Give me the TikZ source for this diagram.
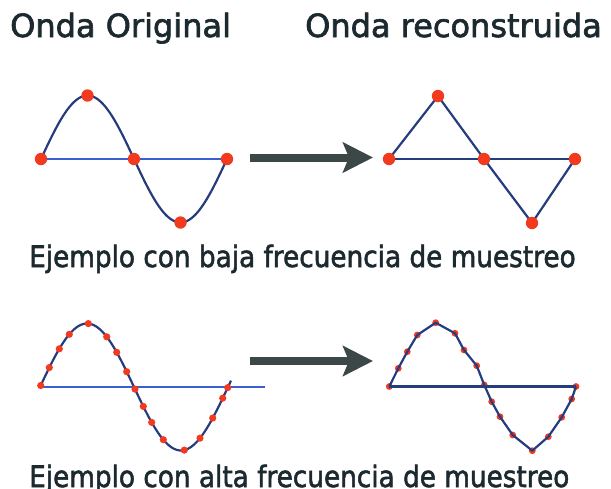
\documentclass[tikz,border=0pt]{standalone}
\usepackage{fontspec}
\setmainfont{DejaVu Sans}
\newfontfamily\labfont[FakeBold=2]{DejaVu Sans}
\usetikzlibrary{arrows.meta}
\definecolor{txt}{RGB}{28,42,48}
\definecolor{wave}{RGB}{38,60,125}
\definecolor{axisb}{RGB}{58,95,210}
\definecolor{dot}{RGB}{242,58,30}
\definecolor{arr}{RGB}{60,72,72}
\newcommand{\tallcap}[1]{\scalebox{1}[1.12]{#1}}
\tikzset{
  title/.style={anchor=base west, inner sep=0pt, text=txt, font=\labfont\fontsize{32}{36}\selectfont},
  caption/.style={anchor=base west, inner sep=0pt, text=txt, font=\labfont\fontsize{26.3}{30}\selectfont},
  wavel/.style={draw=wave, line width=2.2pt, line join=round},
  axisl/.style={draw=axisb, line width=2.2pt},
  bigdot/.style={fill=dot},
  bigarrow/.style={draw=arr, line width=8pt, -{Stealth[length=30pt,width=30pt,inset=6pt]}}
}
\begin{document}
\begin{tikzpicture}[x=1pt,y=-1pt]
\useasboundingbox (0,0) rectangle (611,488);
\clip (0,0) rectangle (611,488);

% titles
\node[title] (t1) at (10,37) {Onda Original};
\node[title] (t2) at (305,37) {Onda reconstruida};
\node[caption] (c1) at (29,267) {\tallcap{Ejemplo con baja frecuencia de muestreo}};
\node[caption] (c2) at (29,487) {\tallcap{Ejemplo con alta frecuencia de muestreo}};

% ---------- top left: original wave, low sampling ----------
\coordinate (a0) at (41,159);
\coordinate (a4) at (227,159);
\draw[axisl] (a0) -- (a4);
\draw[wavel] plot[domain=41:227, samples=80, smooth] (\x,{159-63.5*sin((\x-41)/186*360)});
\foreach \x in {41,87.5,134,180.5,227}
  \fill[bigdot] ({\x},{159-63.5*sin((\x-41)/186*360)}) circle (6.2);

% ---------- top right: reconstruction ----------
\coordinate (r0) at (389,159);
\coordinate (r1) at (438,96);
\coordinate (r2) at (484,159);
\coordinate (r3) at (532,223);
\coordinate (r4) at (575,159);
\draw[wavel] (r0) -- (r4);
\draw[wavel] (r0) -- (r1) -- (r2) -- (r3) -- (r4);
\foreach \p in {r0,r1,r2,r3,r4}
  \fill[bigdot] (\p) circle (6.2);

% top arrow
\coordinate (ta0) at (250,157.5);
\coordinate (ta1) at (373,157.5);
\draw[bigarrow] (ta0) -- (ta1);

% ---------- bottom left: original wave, high sampling ----------
\coordinate (b0) at (40,387);
\coordinate (b1) at (265,387);
\draw[axisl] (b0) -- (b1);
\draw[wavel] plot[domain=40:231, samples=90, smooth] (\x,{387-63.5*sin((\x-40)/188*360)});
\foreach \x in {40.7,49.3,59.3,69.3,88.3,106.7,116.7,126.7,135,143.3,151.7,163.3,184.3,200,212.7,222.7,227.7}
  \fill[dot] ({\x},{387-63.5*sin((\x-40)/188*360)}) circle (3.6);

% ---------- bottom right: reconstruction ----------
\coordinate (s0) at (389.3,386.5);
\coordinate (s1) at (398.3,368.3);
\coordinate (s2) at (407.3,351.7);
\coordinate (s3) at (417.3,335);
\coordinate (s4) at (435.7,322.7);
\coordinate (s5) at (455,333.3);
\coordinate (s6) at (464,350);
\coordinate (s7) at (476.7,365.7);
\coordinate (s8) at (484.3,385);
\coordinate (s9) at (491.7,401.7);
\coordinate (s10) at (500,416.7);
\coordinate (s11) at (512.7,435);
\coordinate (s12) at (532.3,450.7);
\coordinate (s13) at (548.3,436.7);
\coordinate (s14) at (561.7,417.3);
\coordinate (s15) at (571.7,399);
\coordinate (s16) at (576,386.5);
\foreach \i in {0,...,16}
  \fill[dot] (s\i) circle (3.4);
\draw[wavel] (s0) -- (s16);
\draw[wavel] (s0) -- (s1) -- (s2) -- (s3) -- (s4) -- (s5) -- (s6) -- (s7) -- (s8)
  -- (s9) -- (s10) -- (s11) -- (s12) -- (s13) -- (s14) -- (s15) -- (s16);

% bottom arrow
\coordinate (ba0) at (250,361);
\coordinate (ba1) at (373,361);
\draw[bigarrow] (ba0) -- (ba1);
\end{tikzpicture}
\end{document}
